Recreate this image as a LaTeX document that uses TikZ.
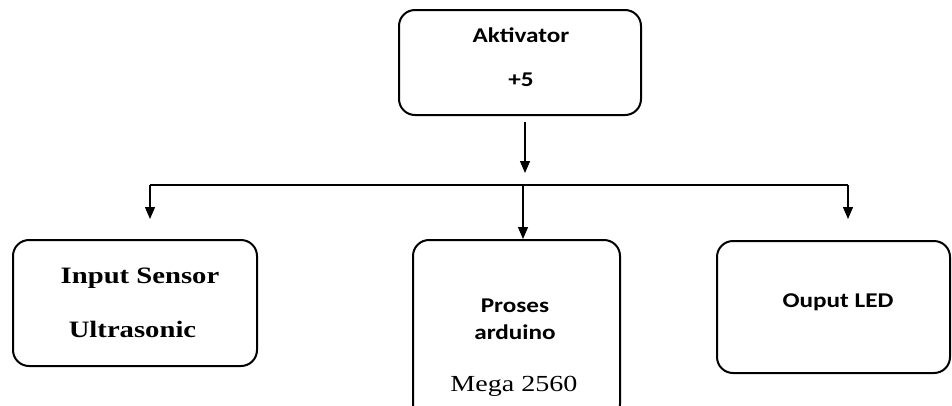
\documentclass[tikz,border=0pt]{standalone}
\usepackage{fontspec}
\newfontfamily\calib{Carlito}
\newfontfamily\tms{Liberation Serif}
\usetikzlibrary{arrows.meta}
\tikzset{
  box/.style={draw=black, line width=2pt, rounded corners=16pt, inner sep=0pt},
  conn/.style={draw=black, line width=1.3pt},
  arr/.style={conn, -{Triangle[length=12pt,width=10pt]}},
  sanslbl/.style={anchor=base, inner sep=0pt, font=\calib\bfseries\fontsize{21}{24}\selectfont},
  seriflbl/.style={anchor=base, inner sep=0pt, font=\tms\bfseries\fontsize{23.5}{27}\selectfont},
  megalbl/.style={anchor=base, inner sep=0pt, font=\tms\fontsize{23}{27}\selectfont},
}
\newcommand{\widesans}[1]{\scalebox{1.2}[1]{#1}}
\newcommand{\wideserif}[1]{\scalebox{1.22}[1]{#1}}
\begin{document}
\begin{tikzpicture}[x=1pt,y=-1pt]
\useasboundingbox (0,0) rectangle (952,405);
\clip (0,0) rectangle (952,405);
\fill[white] (0,0) rectangle (952,405);
% boxes
\node[box, minimum width=242pt, minimum height=105pt] (top) at (520,62.5) {};
\node[box, minimum width=244pt, minimum height=126pt] (left) at (135,303) {};
\node[box, minimum width=207pt, minimum height=180pt] (mid) at (516.5,330) {};
\node[box, minimum width=233pt, minimum height=132pt] (right) at (833.5,307) {};
% labels
\node[sanslbl] (t1) at (521,42) {\widesans{Aktivator}};
\node[sanslbl] (t2) at (521,86) {\widesans{+5}};
\node[seriflbl] (l1) at (140,283) {\wideserif{Input Sensor}};
\node[seriflbl] (l2) at (132.5,337) {\wideserif{Ultrasonic}};
\node[sanslbl] (m1) at (515,312) {\widesans{Proses}};
\node[sanslbl] (m2) at (515,339) {\widesans{arduino}};
\node[megalbl] (m3) at (514,391) {\wideserif{Mega 2560}};
\node[sanslbl] (r1) at (838,307) {\widesans{Ouput LED}};
% connectors
\coordinate (a0) at (525,122);
\coordinate (a1) at (525,173);
\coordinate (bl) at (150,185);
\coordinate (bm) at (523,185);
\coordinate (br) at (848,185);
\coordinate (el) at (150,219);
\coordinate (er) at (848,219);
\draw[arr] (a0) -- (a1);
\draw[conn] (bl) -- (br);
\draw[arr] (bl) -- (el);
\draw[arr] (br) -- (er);
\draw[arr] (bm) -- (mid.north -| bm);
\end{tikzpicture}
\end{document}
